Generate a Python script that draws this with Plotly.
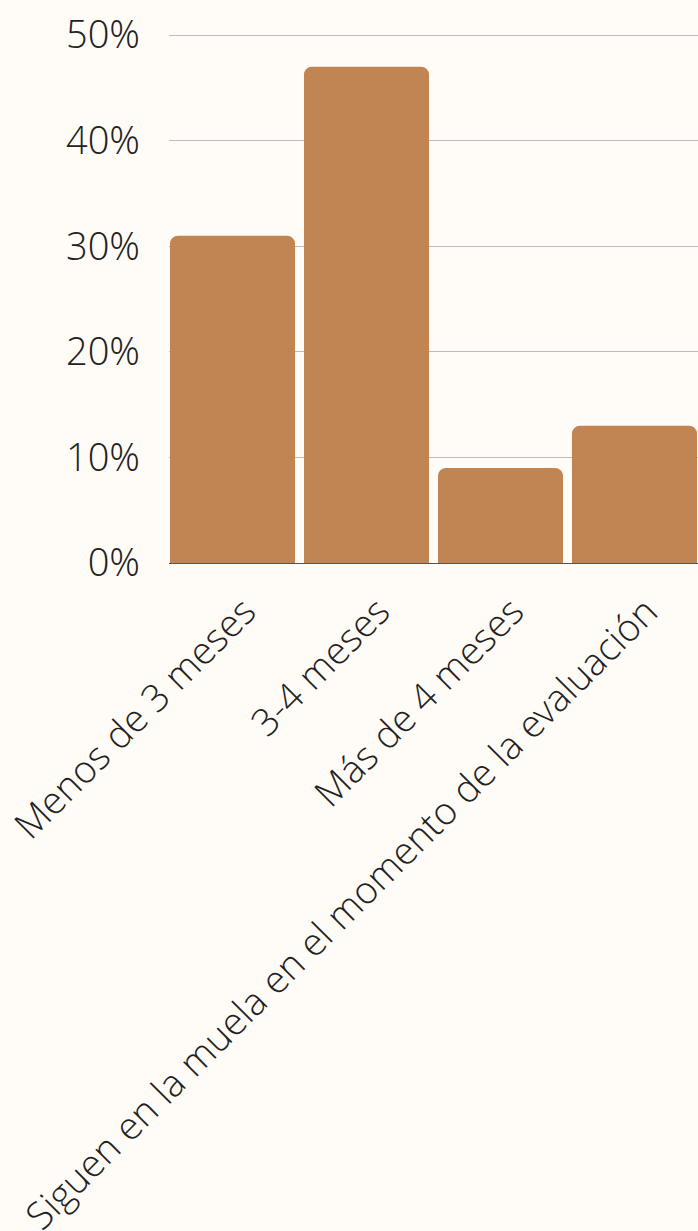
import plotly.graph_objects as go

categories = ["Menos de 3 meses", "3-4 meses", "Más de 4 meses",
              "Siguen en la muela en el momento de la evaluación"]
values = [31, 47, 9, 13]
tick_vals = [0, 10, 20, 30, 40, 50]
tick_text = ["0%", "10%", "20%", "30%", "40%", "50%"]

bg = "#fffcf7"
fam = "Open Sans Light, Open Sans"
fig = go.Figure(go.Bar(x=categories, y=values, marker_color="#c08552",
                       marker_line_width=0))
fig.update_layout(
    width=698, height=1231,
    margin=dict(l=169, r=0, t=33, b=668),
    paper_bgcolor=bg, plot_bgcolor=bg,
    bargap=0.067, barcornerradius=8,
    font=dict(family=fam, size=38, color="#222222", weight=300),
    showlegend=False,
)
fig.update_yaxes(range=[0, 50.19], tickvals=tick_vals, ticktext=tick_text,
                 gridcolor="#bdbdbd", gridwidth=1, zeroline=False,
                 ticks="", ticklen=0, automargin=False, ticklabelstandoff=28,
                 tickfont=dict(family=fam, size=38, weight=300))
fig.update_xaxes(tickangle=-45, showline=True, linecolor="#555555", linewidth=1,
                 automargin=False, ticks="", range=[-0.474, 3.474],
                 ticklabelshift=12, ticklabelstandoff=10,
                 tickfont=dict(family=fam, size=38, weight=300))
fig.write_html("out.html", config={"displayModeBar": False},
               post_script="document.body.style.margin='0';document.body.style.overflow='hidden';")
